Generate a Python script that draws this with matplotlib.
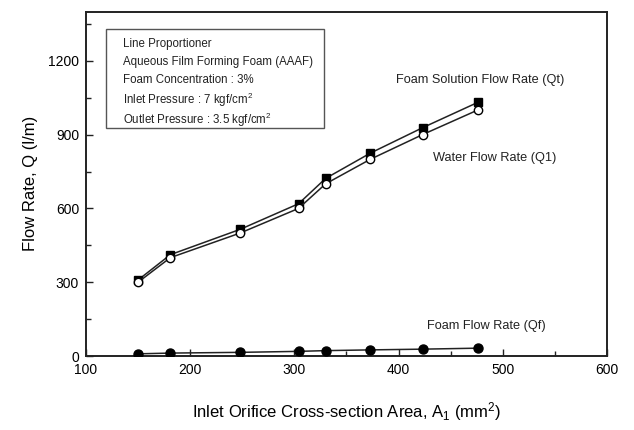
import numpy as np
import matplotlib
matplotlib.use('Agg')
import matplotlib.pyplot as plt
from matplotlib.patches import Rectangle
from matplotlib.ticker import MultipleLocator

plt.rcParams['font.family'] = ['Liberation Sans', 'DejaVu Sans']
plt.rcParams['mathtext.default'] = 'regular'

# data
area = [150, 181, 248, 304, 330, 373, 423, 476]
q_total = [309, 412, 515, 619, 722, 825, 928, 1031]
q_water = [300, 400, 500, 600, 700, 800, 900, 1000]
q_foam = [9, 12, 15, 19, 22, 25, 28, 32]

info_lines = [
    'Line Proportioner',
    'Aqueous Film Forming Foam (AAAF)',
    'Foam Concentration : 3%',
    'Inlet Pressure : 7 kgf/cm$^2$',
    'Outlet Pressure : 3.5 kgf/cm$^2$',
]

fig = plt.figure(figsize=(6.34, 4.30), dpi=100)
ax = fig.add_axes([0.1356, 0.172, 0.8218, 0.801])

line_col = '#222222'
ax.plot(area, q_total, '-', color=line_col, lw=1.1, marker='s', ms=5.5,
        mfc='black', mec='black', zorder=3)
ax.plot(area, q_water, '-', color=line_col, lw=1.1, marker='o', ms=6,
        mfc='white', mec='black', mew=1.0, zorder=4)
ax.plot(area, q_foam, '-', color=line_col, lw=1.1, marker='o', ms=6.5,
        mfc='black', mec='black', zorder=3)

ax.set_xlim(100, 600)
ax.set_ylim(0, 1400)
ax.xaxis.set_major_locator(MultipleLocator(100))
ax.xaxis.set_minor_locator(MultipleLocator(50))
ax.set_yticks([0, 300, 600, 900, 1200])
ax.yaxis.set_minor_locator(MultipleLocator(150))

ax.tick_params(which='both', direction='in', top=False, right=False,
               labelsize=10, width=1.0, color='#222222')
ax.tick_params(which='major', length=5)
ax.tick_params(axis='x', which='major', pad=5)
ax.tick_params(axis='y', which='major', pad=5)
ax.tick_params(which='minor', length=3.5)
for s in ax.spines.values():
    s.set_linewidth(1.4)
    s.set_color('#222222')

ax.set_xlabel('Inlet Orifice Cross-section Area, A$_1$ (mm$^2$)', fontsize=12, labelpad=17)
ax.set_ylabel('Flow Rate, Q (l/m)', fontsize=12, labelpad=7)

# info box
ax.add_patch(Rectangle((0.038, 0.661), 0.419, 0.288, transform=ax.transAxes,
                       fill=False, edgecolor='#555555', lw=1.0, zorder=5))
ys = [0.906, 0.853, 0.802, 0.744, 0.686]
for txt, y in zip(info_lines, ys):
    ax.text(0.0704, y, txt, transform=ax.transAxes, fontsize=8.3,
            va='center', ha='left', color='#222222')

ax.text(398, 1124, 'Foam Solution Flow Rate (Qt)', fontsize=9.2, va='center', color='#222222')
ax.text(433, 803, 'Water Flow Rate (Q1)', fontsize=9.2, va='center', color='#222222')
ax.text(427, 122, 'Foam Flow Rate (Qf)', fontsize=9.2, va='center', color='#222222')

fig.savefig('out.png', dpi=100)
